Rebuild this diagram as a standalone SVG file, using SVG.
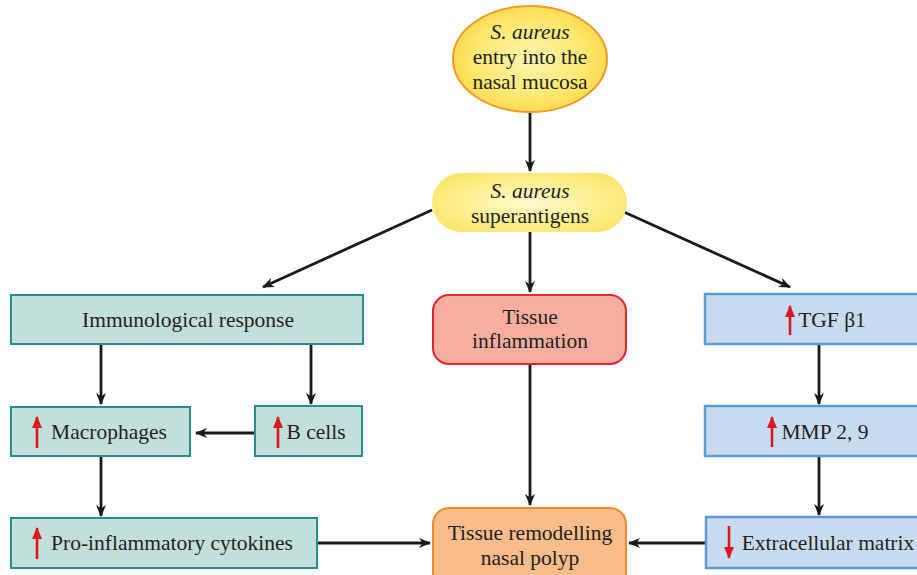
<svg xmlns="http://www.w3.org/2000/svg" width="917" height="575" viewBox="0 0 917 575">
<defs>
<radialGradient id="gEll" cx="50%" cy="50%" r="55%"><stop offset="0" stop-color="#fff7b0"/><stop offset="0.7" stop-color="#fde66a"/><stop offset="1" stop-color="#fbd648"/></radialGradient>
<radialGradient id="gPill" cx="50%" cy="50%" r="60%"><stop offset="0" stop-color="#fffbd0"/><stop offset="0.6" stop-color="#fdf08e"/><stop offset="1" stop-color="#fae46a"/></radialGradient>
<marker id="ah" viewBox="0 0 12 10" markerWidth="12" markerHeight="10" refX="11" refY="5" orient="auto" markerUnits="userSpaceOnUse"><path d="M0,0 L12,5 L0,10 L3.5,5 z" fill="#1a1a1a"/></marker>
<marker id="rh" viewBox="0 0 12 10" markerWidth="12" markerHeight="10" refX="11" refY="5" orient="auto" markerUnits="userSpaceOnUse"><path d="M0,0 L12,5 L0,10 z" fill="#d71920"/></marker>
</defs>
<style>
text{font-family:"Liberation Serif","Times New Roman",serif;font-size:21.5px;fill:#231f20;text-anchor:middle}
.it{font-style:italic}
.teal{fill:#c3dfdb;stroke:#2a8f8a;stroke-width:2}
.blue{fill:#c8dcf1;stroke:#5e9bd3;stroke-width:2.5}
.con{stroke:#1a1a1a;stroke-width:2.8;fill:none;marker-end:url(#ah)}
.up{stroke:#d71920;stroke-width:2.6;fill:none;marker-end:url(#rh)}
</style>
<rect width="917" height="575" fill="#ffffff"/>
<g id="connectors">
<line class="con" x1="530" y1="112" x2="530" y2="171"/>
<line class="con" x1="432" y1="210" x2="263" y2="287"/>
<line class="con" x1="624" y1="212" x2="790" y2="287"/>
<line class="con" x1="530" y1="232" x2="530" y2="292"/>
<line class="con" x1="101" y1="344" x2="101" y2="404"/>
<line class="con" x1="311" y1="344" x2="311" y2="404"/>
<line class="con" x1="255" y1="433" x2="196" y2="433"/>
<line class="con" x1="101" y1="456" x2="101" y2="516"/>
<line class="con" x1="317" y1="543" x2="430" y2="543"/>
<line class="con" x1="530" y1="364" x2="530" y2="505"/>
<line class="con" x1="706" y1="543" x2="629" y2="543"/>
<line class="con" x1="819" y1="344" x2="819" y2="404"/>
<line class="con" x1="819" y1="456" x2="819" y2="515"/>
</g>
<g id="entry">
<ellipse cx="530" cy="59" rx="77" ry="53" fill="url(#gEll)" stroke="#f39a2a" stroke-width="2"/>
<text class="it" x="530" y="39">S. aureus</text>
<text x="530" y="64">entry into the</text>
<text x="530" y="89">nasal mucosa</text>
</g>
<g id="superantigens">
<rect x="432" y="173" width="195" height="59" rx="29.5" fill="url(#gPill)"/>
<text class="it" x="530" y="198">S. aureus</text>
<text x="530" y="223">superantigens</text>
</g>
<g id="immuno">
<rect class="teal" x="11" y="295" width="352" height="49"/>
<text x="188" y="327">Immunological response</text>
</g>
<g id="macrophages">
<rect class="teal" x="11" y="407" width="179" height="49"/>
<line class="up" x1="37" y1="448" x2="37" y2="417"/>
<text x="109" y="439">Macrophages</text>
</g>
<g id="bcells">
<rect class="teal" x="255" y="406" width="107" height="50"/>
<line class="up" x1="278" y1="448" x2="278" y2="417"/>
<text x="316" y="439">B cells</text>
</g>
<g id="cytokines">
<rect class="teal" x="11" y="518" width="306" height="50"/>
<line class="up" x1="37" y1="559" x2="37" y2="528"/>
<text x="172" y="550">Pro-inflammatory cytokines</text>
</g>
<g id="inflammation">
<rect x="433" y="295" width="193" height="69" rx="16" fill="#f7ada0" stroke="#e0262f" stroke-width="2"/>
<text x="530" y="324">Tissue</text>
<text x="530" y="348">inflammation</text>
</g>
<g id="remodelling">
<rect x="433" y="508" width="193" height="80" rx="16" fill="#f9bc8a" stroke="#f08a2a" stroke-width="2"/>
<text x="530" y="540">Tissue remodelling</text>
<text x="530" y="565">nasal polyp</text>
</g>
<g id="tgf">
<rect class="blue" x="705" y="294" width="220" height="50"/>
<line class="up" x1="790" y1="335" x2="790" y2="306"/>
<text x="832" y="327">TGF β1</text>
</g>
<g id="mmp">
<rect class="blue" x="705" y="406" width="220" height="50"/>
<line class="up" x1="772" y1="447" x2="772" y2="417"/>
<text x="825" y="439">MMP 2, 9</text>
</g>
<g id="ecm">
<rect class="blue" x="706" y="517" width="220" height="51"/>
<line class="up" x1="729" y1="526" x2="729" y2="558"/>
<text x="828" y="550">Extracellular matrix</text>
</g>
</svg>
